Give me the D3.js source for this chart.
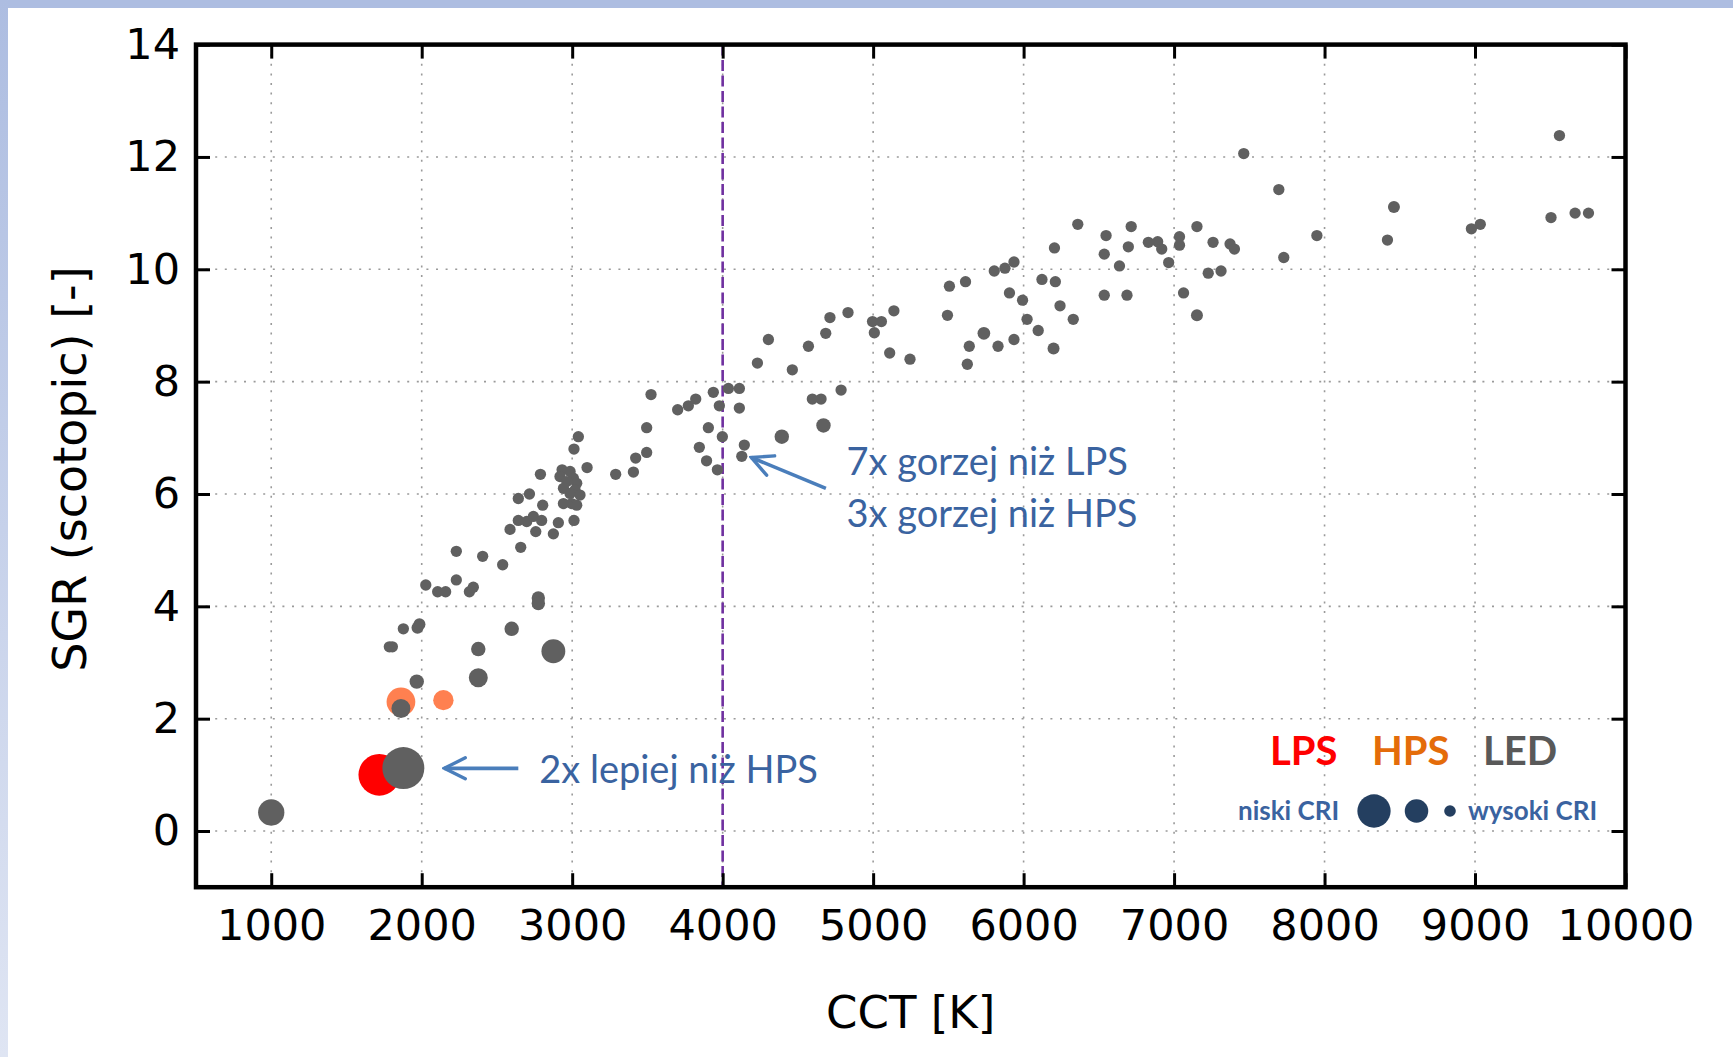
<!DOCTYPE html>
<html>
<head>
<meta charset="utf-8">
<script src="https://cdn.jsdelivr.net/npm/d3@7"></script>
<style>
  html, body { margin: 0; padding: 0; background: #fff; }
  svg { display: block; }
</style>
</head>
<body>
<div id="chart"></div>
<script>
// SGR (scotopic) vs CCT for LPS, HPS and LED sources
// each point: [CCT K, SGR, estimated CRI] (CRI drives the marker size)
var lpsPoints = [[1718, 1.00, 1]]
var hpsPoints = [[1862, 2.30, 38], [2144, 2.33, 62]]
var ledPoints = [
  [1000, 0.33, 45], [1878, 1.12, 0], [1862, 2.18, 66], [1967, 2.66, 79],
  [2376, 2.73, 66], [2376, 3.24, 79], [2875, 3.20, 52], [2598, 3.60, 79],
  [1878, 3.60, 88], [1972, 3.62, 86], [1985, 3.68, 86], [1785, 3.28, 88],
  [1805, 3.28, 88], [2775, 4.15, 82], [2775, 4.05, 82],
  [2027, 4.38, 88], [2106, 4.26, 88], [2159, 4.26, 88], [2230, 4.47, 88],
  [2230, 4.98, 88], [2317, 4.26, 88], [2343, 4.34, 88], [2405, 4.89, 88],
  [2538, 4.74, 88], [2658, 5.05, 88], [2587, 5.37, 88], [2642, 5.92, 88],
  [2716, 6.00, 88], [2642, 5.53, 88], [2698, 5.51, 88], [2742, 5.60, 88],
  [2797, 5.53, 88], [2758, 5.33, 88], [2804, 5.80, 88], [2789, 6.35, 88],
  [2875, 5.29, 88], [2908, 5.49, 88], [3012, 5.53, 88], [2933, 6.43, 88],
  [2986, 6.40, 88], [2919, 6.31, 88], [3008, 6.28, 88], [2964, 6.22, 88],
  [3030, 6.19, 88], [2942, 6.10, 88], [3019, 6.07, 88], [2986, 6.01, 88],
  [3052, 5.98, 88], [2942, 5.83, 88], [2997, 5.83, 88], [3030, 5.80, 88],
  [3041, 7.02, 88], [3012, 6.80, 88], [3099, 6.47, 88], [3289, 6.35, 88],
  [3407, 6.39, 88], [3422, 6.64, 88], [3495, 6.74, 88], [3495, 7.18, 88],
  [3524, 7.77, 88], [3701, 7.50, 88], [3772, 7.57, 88], [3821, 7.69, 88],
  [3938, 7.81, 88], [3978, 7.57, 88], [4038, 7.88, 88], [4111, 7.88, 88],
  [4111, 7.53, 88], [3905, 7.18, 88], [3998, 7.02, 88], [3845, 6.83, 88],
  [3893, 6.59, 88], [3965, 6.43, 88], [4144, 6.87, 88], [4127, 6.67, 88],
  [4393, 7.02, 79], [4231, 8.33, 88], [4304, 8.75, 88], [4463, 8.21, 88],
  [4570, 8.63, 88], [4685, 8.86, 88], [4596, 7.69, 88], [4654, 7.69, 88],
  [4670, 7.22, 79], [4787, 7.85, 88], [4713, 9.14, 88], [4833, 9.23, 88],
  [4996, 9.07, 88], [5055, 9.07, 88], [5008, 8.87, 88], [5138, 9.26, 88],
  [5110, 8.51, 88], [5245, 8.40, 88], [5494, 9.18, 88], [5507, 9.70, 88],
  [5614, 9.78, 88], [5626, 8.31, 88], [5639, 8.63, 88], [5736, 8.86, 84],
  [5805, 9.97, 88], [5876, 10.02, 88], [5936, 10.13, 88], [5906, 9.58, 88],
  [5993, 9.45, 88], [5830, 8.63, 88], [5936, 8.75, 88], [6023, 9.11, 88],
  [6097, 8.91, 88], [6122, 9.82, 88], [6211, 9.78, 88], [6242, 9.35, 88],
  [6330, 9.11, 88], [6199, 8.59, 86], [6205, 10.38, 88], [6360, 10.80, 88],
  [6536, 10.27, 88], [6548, 10.60, 88], [6536, 9.54, 88], [6637, 10.06, 88],
  [6687, 9.54, 88], [6715, 10.76, 88], [6696, 10.40, 88], [6829, 10.48, 88],
  [6891, 10.49, 88], [6918, 10.36, 88], [6964, 10.12, 88], [7036, 10.58, 88],
  [7036, 10.43, 88], [7063, 9.58, 88], [7152, 9.18, 86], [7152, 10.76, 88],
  [7227, 9.93, 88], [7312, 9.97, 88], [7259, 10.48, 88], [7372, 10.45, 88],
  [7401, 10.36, 88], [7463, 12.06, 88], [7696, 11.42, 88], [7729, 10.21, 88],
  [7949, 10.60, 88], [8461, 11.11, 86], [8418, 10.52, 88], [8976, 10.72, 88],
  [9035, 10.80, 88], [9561, 12.38, 88], [9505, 10.92, 88], [9665, 11.00, 88],
  [9754, 11.00, 88]
]

var xTicks = [1000, 2000, 3000, 4000, 5000, 6000, 7000, 8000, 9000, 10000]
var yTicks = [0, 2, 4, 6, 8, 10, 12, 14]
var refCct = 4000
var legendCri = [25, 53, 87]

var W = 1733, H = 1057
var svg = d3.select('#chart').append('svg')
    .attr('width', W).attr('height', H)

// slide frame
var defs = svg.append('defs')
var grad = defs.append('linearGradient').attr('id', 'sideGrad')
    .attr('x1', 0).attr('y1', 0).attr('x2', 0).attr('y2', 1)
grad.append('stop').attr('offset', 0).attr('stop-color', '#adbde1')
grad.append('stop').attr('offset', 1).attr('stop-color', '#dfe5f3')
svg.append('rect').attr('x', 0).attr('y', 0).attr('width', W).attr('height', 8).attr('fill', '#adbde1')
svg.append('rect').attr('x', 0).attr('y', 0).attr('width', 8).attr('height', H).attr('fill', 'url(#sideGrad)')

var plotL = 196, plotR = 1625.5, plotT = 44.6, plotB = 887.2

var x = d3.scaleLinear().domain([500, 10000]).range([plotL, plotR])
var y = d3.scaleLinear().domain([-1, 14]).range([plotB, plotT])
var r = d3.scaleLinear().domain([0, 90]).range([21, 5.3]).clamp(true)

// dotted grid
var grid = svg.append('g')
grid.selectAll('.gx').data(xTicks.slice(0, -1)).enter().append('line')
    .attr('x1', x).attr('x2', x).attr('y1', plotT).attr('y2', plotB)
grid.selectAll('.gy').data(yTicks.slice(0, -1)).enter().append('line')
    .attr('y1', y).attr('y2', y).attr('x1', plotL).attr('x2', plotR)
grid.selectAll('line')
    .attr('stroke', '#9a9a9a').attr('stroke-width', 1.6)
    .attr('stroke-dasharray', '2 7.6')

// reference line at 4000 K
svg.append('line')
    .attr('x1', x(refCct)).attr('x2', x(refCct))
    .attr('y1', plotT).attr('y2', plotB)
    .attr('stroke', '#7030a0').attr('stroke-width', 2.6)
    .attr('stroke-dasharray', '11 4.5')

// points: LPS, HPS, then LED on top
function dots(data, color, cls) {
  svg.append('g').selectAll('circle').data(data).enter().append('circle')
      .attr('class', cls)
      .attr('cx', function(d){ return x(d[0]) })
      .attr('cy', function(d){ return y(d[1]) })
      .attr('r', function(d){ return r(d[2]) })
      .attr('fill', color)
}
dots(lpsPoints, '#ff0000', 'lps')
dots(hpsPoints, '#ff8050', 'hps')
dots(ledPoints, '#606060', 'led')

// axes, ticks pointing inwards on all four sides
var tick = 14
function styleAxis(g) {
  g.select('.domain').remove()
  g.selectAll('.tick line').attr('stroke', '#000').attr('stroke-width', 3)
  g.selectAll('text').attr('font-family', 'DejaVu Sans, Verdana, sans-serif')
      .attr('font-size', 43).attr('fill', '#000')
}
svg.append('g').attr('transform', 'translate(0,' + plotB + ')')
    .call(d3.axisBottom(x).tickValues(xTicks).tickSize(-tick).tickPadding(22).tickFormat(d3.format('d')))
    .call(styleAxis)
svg.append('g').attr('transform', 'translate(0,' + plotT + ')')
    .call(d3.axisTop(x).tickValues(xTicks).tickSize(-tick).tickFormat(''))
    .call(styleAxis)
svg.append('g').attr('transform', 'translate(' + plotL + ',0)')
    .call(d3.axisLeft(y).tickValues(yTicks).tickSize(-tick).tickPadding(16))
    .call(styleAxis)
svg.append('g').attr('transform', 'translate(' + plotR + ',0)')
    .call(d3.axisRight(y).tickValues(yTicks).tickSize(-tick).tickFormat(''))
    .call(styleAxis)

svg.append('rect')
    .attr('x', plotL).attr('y', plotT)
    .attr('width', plotR - plotL).attr('height', plotB - plotT)
    .attr('fill', 'none').attr('stroke', '#000').attr('stroke-width', 4.5)

// axis titles
svg.append('text')
    .attr('x', (plotL + plotR) / 2).attr('y', 1028)
    .attr('text-anchor', 'middle')
    .attr('font-family', 'DejaVu Sans, Verdana, sans-serif').attr('font-size', 45)
    .text('CCT [K]')
svg.append('text')
    .attr('transform', 'translate(86,' + 469 + ') rotate(-90)')
    .attr('text-anchor', 'middle')
    .attr('font-family', 'DejaVu Sans, Verdana, sans-serif').attr('font-size', 46)
    .text('SGR (scotopic) [-]')

// annotations
var blue = '#3a63a0', arrowBlue = '#4a7ebb'
defs.append('marker').attr('id', 'head')
    .attr('viewBox', '0 0 12 12').attr('refX', 11).attr('refY', 6)
    .attr('markerWidth', 7).attr('markerHeight', 7).attr('markerUnits', 'strokeWidth')
    .attr('orient', 'auto')
  .append('path').attr('d', 'M1,1 L11,6 L1,11')
    .attr('fill', 'none').attr('stroke', arrowBlue).attr('stroke-width', 1.6)
    .attr('stroke-linecap', 'round')

function arrow(from, to) {
  svg.append('line')
      .attr('x1', x(from[0])).attr('y1', y(from[1]))
      .attr('x2', x(to[0])).attr('y2', y(to[1]))
      .attr('stroke', arrowBlue).attr('stroke-width', 3.6)
      .attr('marker-end', 'url(#head)')
}
function note(pos, txt) {
  svg.append('text').attr('x', x(pos[0])).attr('y', y(pos[1]))
      .attr('font-family', 'Lato, Carlito, Calibri, sans-serif').attr('font-size', 38)
      .attr('fill', blue).text(txt)
}
arrow([4686, 6.10], [4190, 6.65])
note([4823, 6.34], '7x gorzej niż LPS')
note([4823, 5.42], '3x gorzej niż HPS')
arrow([2642, 1.116], [2150, 1.116])
note([2781, 0.86], '2x lepiej niż HPS')

// legend
var lg = svg.append('g').attr('font-family', 'Lato, Carlito, Calibri, sans-serif').attr('font-weight', 'bold')
var legendTypes = [['LPS', '#ff0000', 1270], ['HPS', '#e46c0a', 1372], ['LED', '#595959', 1483]]
lg.selectAll('.lt').data(legendTypes).enter().append('text')
    .attr('x', function(d){ return d[2] }).attr('y', 765)
    .attr('font-size', 40).attr('fill', function(d){ return d[1] })
    .text(function(d){ return d[0] })
lg.append('text').attr('x', 1238).attr('y', 820).attr('font-size', 26).attr('fill', blue).text('niski CRI')
lg.append('text').attr('x', 1468).attr('y', 820).attr('font-size', 26).attr('fill', blue).text('wysoki CRI')
var legendX = [1374, 1416.5, 1450]
lg.selectAll('circle').data(legendCri).enter().append('circle')
    .attr('cx', function(d, i){ return legendX[i] }).attr('cy', 811)
    .attr('r', function(d){ return r(d) })
    .attr('fill', '#243f60')
</script>
</body>
</html>
